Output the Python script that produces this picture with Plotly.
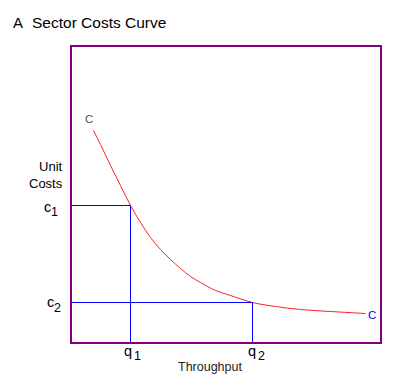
import plotly.graph_objects as go

# Curve (x = throughput units, y = unit cost units)
curve_x = [21, 28, 38, 48, 58, 68, 78, 88, 98, 108, 118, 128, 143, 158, 180, 203, 228, 258, 293]
curve_y = [212, 198, 177, 157, 137, 120, 105, 93, 83, 74, 66, 60, 52, 47, 40, 36, 33, 31, 29]

q_values = [58, 180]      # q1, q2
c_values = [137, 40]      # c1, c2
q_labels = ["q", "q"]
c_labels = ["c", "c"]
sub_labels = ["1", "2"]

X_RANGE = [-0.5, 307.5]
Y_RANGE = [0.5, 295.5]

FONT = "Liberation Sans, Arial, sans-serif"
PURPLE = "#800080"
BLUE = "#0000ff"
RED = "#ff2020"

fig = go.Figure()

fig.add_trace(go.Scatter(x=curve_x, y=curve_y, mode="lines",
                         line=dict(color=RED, width=1, shape="spline", smoothing=1.0),
                         hoverinfo="skip", showlegend=False))

for q, c in zip(q_values, c_values):
    fig.add_trace(go.Scatter(x=[X_RANGE[0], q, q], y=[c, c, Y_RANGE[0]], mode="lines",
                             line=dict(color=BLUE, width=1),
                             hoverinfo="skip", showlegend=False))

ann = []
def px(xp):
    return (xp - 72) / 308.0
def py(yp):
    return (342 - yp) / 295.0

def txt(xp, yp, s, size=12, color="black", xanchor="center", align="center"):
    ann.append(dict(x=px(xp), y=py(yp), text=s, xref="paper", yref="paper", showarrow=False,
                    xanchor=xanchor, yanchor="middle", align=align,
                    font=dict(family=FONT, size=size, color=color)))

txt(11, 23, "A", size=15, xanchor="left")
txt(30, 23, "Sector Costs Curve", size=15.5, xanchor="left")

txt(64.5, 175, "Unit<br>Costs", size=13, xanchor="right", align="right")

# c labels
c_pix = [(47, 207), (50, 302)]
for (xp, yp), lab, sub in zip(c_pix, c_labels, sub_labels):
    txt(xp, yp, lab, size=14.5)
    txt(xp + 7, yp + 5.5, sub, size=12.5)

# q labels
q_pix = [(128, 351), (251.5, 351)]
for (xp, yp), lab, sub in zip(q_pix, q_labels, sub_labels):
    txt(xp, yp, lab, size=14.5)
    txt(xp + 9.5, yp + 5, sub, size=12.5)

txt(210, 367, "Throughput", size=12.5, color="#222222")
txt(89, 119, "C", size=11.5, color="#555555")
txt(371.5, 314.5, "C", size=11.5, color=BLUE)

axis_common = dict(showline=True, mirror=True, linecolor=PURPLE, linewidth=2,
                   showgrid=False, zeroline=False, showticklabels=False, ticks="",
                   fixedrange=True)

fig.update_layout(
    width=401, height=385,
    margin=dict(l=72, r=21, t=47, b=43),
    paper_bgcolor="white", plot_bgcolor="white",
    xaxis=dict(range=X_RANGE, **axis_common),
    yaxis=dict(range=Y_RANGE, **axis_common),
    annotations=ann,
    showlegend=False,
)

fig.write_html("out.html", config={"displayModeBar": False},
               post_script="document.body.style.margin='0';document.body.style.padding='0';")
